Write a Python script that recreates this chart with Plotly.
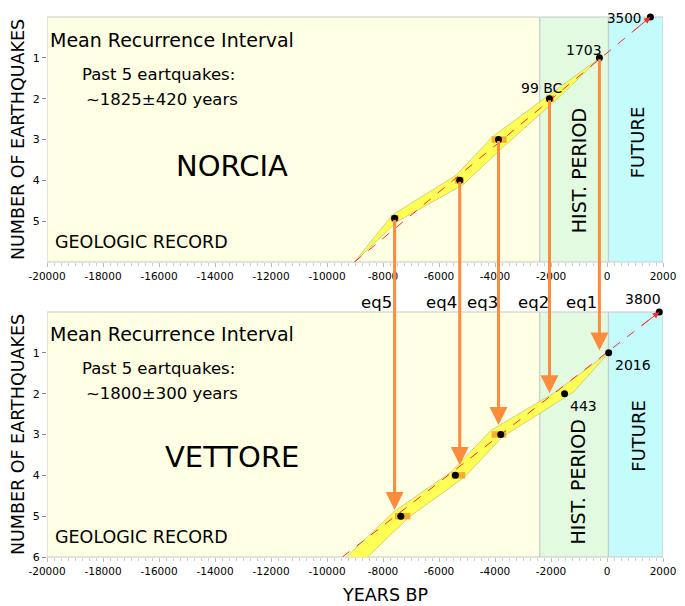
import plotly.graph_objects as go

# ---- data (x = years BP, y = number of earthquakes counted back from the latest) ----
EQ_NAMES = ["eq1", "eq2", "eq3", "eq4", "eq5"]
EQ_LABEL_X = [-921, -2612, -4444, -5919, -8244]

NORCIA_X = [-271, -2054, -3875, -5260, -7585]
NORCIA_N = [1, 2, 3, 4, 4.93]
NORCIA_NEXT_X = 1550
NORCIA_NEXT_N = 0
NORCIA_BOX_X0 = [-2184, -4121, -5434, -7719]      # age uncertainty of eq2..eq5
NORCIA_BOX_X1 = [-1892, -3582, -5117, -7437]
NORCIA_BAND_UP_X = [-9019, -7669, -5380, -4086, -2149, -271]
NORCIA_BAND_UP_Y = [6, 4.85, 3.87, 2.93, 1.95, 1.01]
NORCIA_BAND_LO_X = [-9019, -7493, -5144, -3618, -1561, -271]
NORCIA_BAND_LO_Y = [6, 5.01, 4.11, 3.13, 1.87, 1.01]
NORCIA_TREND_X = [-9019, 1550]
NORCIA_TREND_Y = [6, 0]

VETTORE_X = [60, -1515, -3794, -5415, -7363]
VETTORE_N = [1, 2, 3, 4, 5]
VETTORE_NEXT_X = 1867
VETTORE_NEXT_N = 0
VETTORE_BOX_X0 = [-4122, -5555, -7574]            # age uncertainty of eq3..eq5
VETTORE_BOX_X1 = [-3600, -5062, -7021]
VETTORE_BAND_UP_X = [-9311, -7609, -5556, -4146, -1913, 60]
VETTORE_BAND_UP_Y = [6, 4.89, 3.91, 2.90, 1.99, 1.0]
VETTORE_BAND_LO_X = [-8550, -7081, -5084, -3734, -1198, 60]
VETTORE_BAND_LO_Y = [6, 5.03, 4.04, 3.06, 1.96, 1.0]
VETTORE_TREND_X = [-9450, 1867]
VETTORE_TREND_Y = [6, 0]

# where the correlation arrows from Norcia end on the Vettore panel
ARROW_END_N = [0.94, 1.99, 2.77, 3.75, 4.85]

PERIODS_X0 = [-20000, -2400, 50]
PERIODS_X1 = [-2400, 50, 2000]
PERIOD_COLORS = ["#FFFFE4", "#E2FBE0", "#C4FCFC"]

X_TICKS = list(range(-20000, 2001, 2000))
X_TICK_LABELS = [str(v) for v in X_TICKS]

# page body adds an 8 px offset, so the figure is a little smaller than the window
WIDTH, HEIGHT = 677, 598
M_L, M_R, M_T, M_B = 35, 17, 9, 49
PLOT_H = HEIGHT - M_T - M_B
TOP_DOM = [0.5463, 1.0]
BOT_DOM = [0.0, 0.4537]
FONT = "DejaVu Sans"
ORANGE = "#FF8C3C"


def paper_y(v, dom):
    # y axes run reversed from 6 (bottom) to 0 (top)
    return dom[0] + (1 - v / 6) * (dom[1] - dom[0])


def add_panel(fig, xa, ya, band_up_x, band_up_y, band_lo_x, band_lo_y,
              box_x0, box_x1, box_n, trend_x, trend_y, pts_x, pts_n):
    fig.add_trace(go.Scatter(
        x=band_up_x + band_lo_x[::-1], y=band_up_y + band_lo_y[::-1],
        fill="toself", fillcolor="#FFFF55", mode="lines",
        line=dict(color="rgba(190,190,120,0.7)", width=1),
        xaxis=xa, yaxis=ya, hoverinfo="skip"))
    for x0, x1, n in zip(box_x0, box_x1, box_n):
        fig.add_trace(go.Scatter(
            x=[x0, x1, x1, x0, x0], y=[n - 0.08, n - 0.08, n + 0.08, n + 0.08, n - 0.08],
            fill="toself", fillcolor="rgba(245,160,40,0.85)", mode="lines",
            line=dict(width=0), xaxis=xa, yaxis=ya, hoverinfo="skip"))
    fig.add_trace(go.Scatter(
        x=trend_x, y=trend_y, mode="lines",
        line=dict(color="#F03030", width=1, dash="dash"),
        xaxis=xa, yaxis=ya))
    fig.add_trace(go.Scatter(
        x=pts_x, y=pts_n, mode="markers", cliponaxis=False,
        marker=dict(color="black", size=7),
        xaxis=xa, yaxis=ya))
    # arrow head at the end of the trend line
    fig.add_annotation(
        x=trend_x[1], y=trend_y[1], xref=xa, yref=ya,
        ax=trend_x[1] + 0.06 * (trend_x[0] - trend_x[1]),
        ay=trend_y[1] + 0.06 * (trend_y[0] - trend_y[1]),
        axref=xa, ayref=ya, text="", showarrow=True,
        arrowhead=2, arrowsize=1.3, arrowwidth=1, arrowcolor="#F03030")


fig = go.Figure()

for x0, x1, c in zip(PERIODS_X0, PERIODS_X1, PERIOD_COLORS):
    for xa, ya in (("x", "y"), ("x2", "y2")):
        fig.add_shape(type="rect", xref=xa, yref=ya + " domain", x0=x0, x1=x1, y0=0, y1=1,
                      fillcolor=c, line=dict(color="#C8C8C8", width=1), layer="below")

add_panel(fig, "x", "y",
          NORCIA_BAND_UP_X, NORCIA_BAND_UP_Y, NORCIA_BAND_LO_X, NORCIA_BAND_LO_Y,
          NORCIA_BOX_X0, NORCIA_BOX_X1, NORCIA_N[1:],
          NORCIA_TREND_X, NORCIA_TREND_Y,
          NORCIA_X + [NORCIA_NEXT_X], NORCIA_N + [NORCIA_NEXT_N])
add_panel(fig, "x2", "y2",
          VETTORE_BAND_UP_X, VETTORE_BAND_UP_Y, VETTORE_BAND_LO_X, VETTORE_BAND_LO_Y,
          VETTORE_BOX_X0, VETTORE_BOX_X1, VETTORE_N[2:],
          VETTORE_TREND_X, VETTORE_TREND_Y,
          VETTORE_X + [VETTORE_NEXT_X], VETTORE_N + [VETTORE_NEXT_N])

# correlation arrows Norcia -> Vettore
for x, n, n_end in zip(NORCIA_X, NORCIA_N, ARROW_END_N):
    length = (paper_y(n, TOP_DOM) - paper_y(n_end, BOT_DOM)) * PLOT_H
    fig.add_annotation(x=x, y=n_end, xref="x2", yref="y2", ax=0, ay=-length,
                       text="", showarrow=True, arrowhead=2, arrowsize=1.2,
                       arrowwidth=3, arrowcolor=ORANGE)


def label(text, x, y, xa, dom, size, anchor="center", angle=0):
    # y given in panel units; placed in paper space so labels outside the range still show
    fig.add_annotation(x=x, y=paper_y(y, dom), xref=xa, yref="paper", text=text,
                       showarrow=False, xanchor=anchor, yanchor="middle", textangle=angle,
                       font=dict(family=FONT, size=size, color="black"))


for xa, dom, name, mri, dy in (("x", TOP_DOM, "NORCIA", "~1825\u00b1420 years", 0),
                               ("x2", BOT_DOM, "VETTORE", "~1800\u00b1300 years", 1)):
    label("Mean Recurrence Interval", -19975, 0.56 - 0.03 * dy, xa, dom, 19, "left")
    label("Past 5 eartquakes:", -18810, 1.40 - 0.02 * dy, xa, dom, 16.5, "left")
    label(mri, -18670, 2.01 - 0.02 * dy, xa, dom, 16.5, "left")
    label(name, -13400, 3.65 - 0.09 * dy, xa, dom, 29)
    label("GEOLOGIC RECORD", -19800, 5.51, xa, dom, 17.5, "left")
    label("FUTURE", 1120, 3.06 - 0.04 * dy, xa, dom, 18, angle=-90)

label("HIST. PERIOD", -990, 3.77, "x", TOP_DOM, 19, angle=-90)
label("HIST. PERIOD", -1030, 4.17, "x2", BOT_DOM, 19, angle=-90)

# "3500" sits right at the top edge of the figure, left of its point
fig.add_annotation(x=620, y=1 + M_T / PLOT_H, xref="x", yref="paper", text="3500",
                   showarrow=False, xanchor="center", yanchor="top",
                   font=dict(family=FONT, size=13.5, color="black"))
label("1703", -810, 0.81, "x", TOP_DOM, 14)
label("99 BC", -2325, 1.74, "x", TOP_DOM, 14)
label("3800", 1269, -0.33, "x2", BOT_DOM, 14)
label("2016", 916, 1.31, "x2", BOT_DOM, 14)
label("443", -845, 2.31, "x2", BOT_DOM, 14)

for name, x in zip(EQ_NAMES, EQ_LABEL_X):
    label(name, x, -0.23, "x2", BOT_DOM, 16.5)

label("YEARS BP", -7927, 6.93, "x2", BOT_DOM, 17.5)

axis_x = dict(range=[-20000, 2000], tickvals=X_TICKS, ticktext=X_TICK_LABELS,
              ticks="outside", ticklen=4, tickcolor="#BBBBBB",
              minor=dict(dtick=250, tick0=0, ticks="outside", ticklen=3, tickcolor="#CCCCCC"),
              showgrid=False, zeroline=False, showline=False,
              tickfont=dict(family=FONT, size=10.5, color="black"))
axis_y = dict(range=[6, 0], ticks="outside", ticklen=4, tickcolor="#888888",
              showgrid=False, zeroline=False, showline=False,
              tickfont=dict(family=FONT, size=11, color="black"),
              title=dict(text="NUMBER OF EARTHQUAKES", standoff=4,
                         font=dict(family=FONT, size=17.5, color="black")))

fig.update_layout(
    width=WIDTH, height=HEIGHT,
    margin=dict(l=M_L, r=M_R, t=M_T, b=M_B),
    showlegend=False,
    plot_bgcolor="white", paper_bgcolor="white",
    xaxis=dict(axis_x, anchor="y"),
    yaxis=dict(axis_y, domain=TOP_DOM, anchor="x", tickvals=[1, 2, 3, 4, 5]),
    xaxis2=dict(axis_x, anchor="y2"),
    yaxis2=dict(axis_y, domain=BOT_DOM, anchor="x2", tickvals=[1, 2, 3, 4, 5, 6]),
)

fig.write_html("out.html")
